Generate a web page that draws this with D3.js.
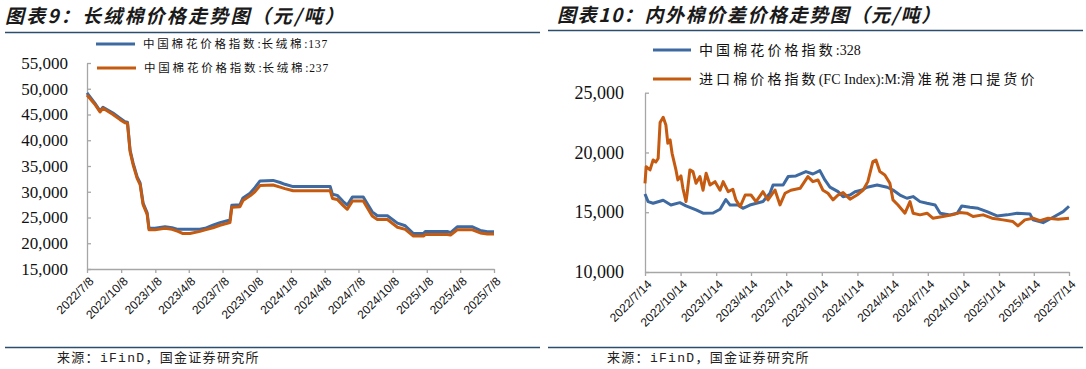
<!DOCTYPE html>
<html><head><meta charset="utf-8">
<script src="https://cdn.jsdelivr.net/npm/d3@7"></script>
<style>body{margin:0;background:#fff;} svg{display:block}</style>
</head><body>
<svg id="c" width="1086" height="369"></svg>
<script>
// ---------- Chart 9 data ----------
const longDates = ["2022-07-08","2022-07-29","2022-08-12","2022-08-20","2022-09-16","2022-10-05","2022-10-18","2022-10-25","2022-11-01","2022-11-09","2022-11-20","2022-11-28","2022-12-06","2022-12-17","2022-12-22","2023-01-07","2023-02-03","2023-02-22","2023-03-10","2023-03-22","2023-04-11","2023-05-08","2023-05-22","2023-06-12","2023-07-01","2023-07-28","2023-08-02","2023-08-24","2023-09-01","2023-09-20","2023-10-03","2023-10-17","2023-11-21","2023-12-10","2023-12-23","2024-01-14","2024-04-23","2024-04-29","2024-05-12","2024-05-28","2024-06-08","2024-06-22","2024-07-21","2024-08-14","2024-08-28","2024-09-24","2024-10-21","2024-11-11","2024-12-03","2024-12-30","2025-01-04","2025-03-04","2025-03-13","2025-03-31","2025-05-11","2025-06-01","2025-06-20","2025-07-08"];
const long137 = [49200,47200,45700,46400,45300,44300,43600,43500,38100,35600,32900,31700,27800,25900,22900,22900,23200,23000,22700,22700,22700,22700,22900,23500,24000,24500,27400,27500,28800,29700,30800,32100,32200,31800,31450,31000,31000,29500,29300,28100,27400,29000,29000,26100,25350,25350,23900,23400,21900,21900,22300,22300,22050,23200,23200,22500,22250,22250];
const long237 = [48800,47000,45500,46200,45000,44000,43400,43300,37800,35300,32600,31400,27500,25600,22600,22600,22900,22700,22300,21900,21900,22300,22600,23000,23500,24000,27000,27100,28300,29200,30000,31200,31300,30900,30600,30200,30200,28700,28500,27300,26600,28200,28200,25300,24600,24600,23100,22700,21400,21400,21700,21700,21600,22600,22600,22000,21800,21800];
const longTicks = ["2022/7/8","2022/10/8","2023/1/8","2023/4/8","2023/7/8","2023/10/8","2024/1/8","2024/4/8","2024/7/8","2024/10/8","2025/1/8","2025/4/8","2025/7/8"];
const longYTicks = [15000,20000,25000,30000,35000,40000,45000,50000,55000];
const longNames = ["中国棉花价格指数:长绒棉:137","中国棉花价格指数:长绒棉:237"];

// ---------- Chart 10 data ----------
const cnDates = ["2022-07-14","2022-07-22","2022-08-04","2022-08-30","2022-09-19","2022-10-12","2022-10-28","2022-11-23","2022-12-11","2023-01-06","2023-01-24","2023-02-08","2023-02-19","2023-03-11","2023-03-24","2023-04-11","2023-05-15","2023-06-02","2023-06-10","2023-07-06","2023-07-19","2023-08-08","2023-09-03","2023-09-21","2023-10-09","2023-10-22","2023-11-04","2023-11-25","2023-12-08","2023-12-26","2024-01-08","2024-01-26","2024-02-08","2024-03-05","2024-03-31","2024-04-15","2024-05-03","2024-05-21","2024-06-06","2024-06-24","2024-07-12","2024-08-02","2024-08-15","2024-09-09","2024-09-28","2024-10-10","2024-10-31","2024-11-21","2024-12-14","2025-01-09","2025-02-04","2025-03-02","2025-04-04","2025-04-12","2025-05-08","2025-06-03","2025-06-29","2025-07-14"];
const cn328 = [16530,15890,15750,16000,15610,15800,15530,15200,14920,14940,15250,16060,15600,15600,15330,15600,15900,16590,17280,17280,17980,18040,18400,18200,18480,17700,17100,16720,16300,16440,16720,16860,17090,17280,17090,16860,16440,16170,16310,15890,15750,15610,14920,14780,14920,15530,15420,15330,15050,14690,14780,14920,14860,14360,14130,14580,15050,15500];
const fcDates = ["2022-07-14","2022-07-17","2022-07-27","2022-08-04","2022-08-11","2022-08-17","2022-08-22","2022-08-30","2022-09-06","2022-09-11","2022-09-17","2022-09-22","2022-10-02","2022-10-07","2022-10-15","2022-10-20","2022-10-28","2022-10-31","2022-11-07","2022-11-15","2022-11-23","2022-12-03","2022-12-11","2022-12-19","2022-12-29","2023-01-11","2023-01-24","2023-02-01","2023-02-14","2023-02-26","2023-03-06","2023-03-17","2023-03-30","2023-04-14","2023-04-27","2023-05-15","2023-05-28","2023-06-15","2023-06-28","2023-07-11","2023-07-26","2023-08-19","2023-09-08","2023-09-21","2023-10-04","2023-10-17","2023-10-30","2023-11-12","2023-11-25","2023-12-08","2023-12-26","2024-01-13","2024-01-29","2024-02-10","2024-02-23","2024-03-02","2024-03-12","2024-03-25","2024-04-07","2024-04-15","2024-04-28","2024-05-16","2024-05-29","2024-06-06","2024-06-24","2024-07-12","2024-07-27","2024-08-22","2024-09-15","2024-10-05","2024-10-23","2024-11-08","2024-12-04","2024-12-27","2025-01-24","2025-02-19","2025-03-04","2025-03-22","2025-04-12","2025-04-30","2025-05-21","2025-06-16","2025-07-14"];
const fcIndexM = [17420,18810,18540,19370,19200,19500,22500,22940,22300,20770,21050,19930,18540,17700,18040,17000,15890,16590,18540,18400,17420,17980,16840,18260,17280,17560,16840,17560,16720,16920,16030,15470,16440,16440,15890,16720,16030,16860,15610,16590,16840,17000,17980,17560,17700,16840,16590,16030,16440,16640,16090,16440,16860,17560,19230,19370,18400,18120,17420,16030,15610,14920,15890,14920,14780,14920,14500,14640,14780,14970,14920,14640,14780,14500,14360,14220,13860,14360,14500,14300,14500,14420,14500];
const spreadTicks = ["2022/7/14","2022/10/14","2023/1/14","2023/4/14","2023/7/14","2023/10/14","2024/1/14","2024/4/14","2024/7/14","2024/10/14","2025/1/14","2025/4/14","2025/7/14"];
const spreadYTicks = [10000,15000,20000,25000];
const spreadNames = ["中国棉花价格指数:328","进口棉价格指数(FC Index):M:滑准税港口提货价"];

const titles = ["图表9：长绒棉价格走势图（元/吨）","图表10：内外棉价差价格走势图（元/吨）"];
const sourceText = "来源：iFinD，国金证券研究所";

// ---------- drawing ----------
const BLUE = "#3e6aa1", ORANGE = "#c55a11", AXIS = "#a6a6a6", RULE = "#2d4d6e";
const svg = d3.select("#c");
const parseD = s => { const [y,m,d] = s.split(/[-\/]/).map(Number); return new Date(y, m-1, d); };
const isCJK = ch => /[\u3000-\u9fff\uff00-\uffef]/.test(ch);
function runs(str) {
  const out = [];
  for (const ch of str) {
    const c = isCJK(ch);
    if (out.length && out[out.length-1].cjk === c) out[out.length-1].t += ch;
    else out.push({cjk: c, t: ch});
  }
  return out;
}

function drawChart(cfg) {
  const g = svg.append("g");
  const tickDates = cfg.ticks.map(parseD);
  const x = d3.scaleTime().domain([tickDates[0], tickDates[tickDates.length-1]]).range([cfg.x0, cfg.x1]);
  const y = d3.scaleLinear().domain([cfg.yTicks[0], cfg.yTicks[cfg.yTicks.length-1]]).range([cfg.yb, cfg.yt]);

  // title
  g.append("text").attr("x", cfg.titleX).attr("y", cfg.titleY)
    .attr("font-family","'Noto Sans CJK SC'").attr("font-weight","bold").attr("font-style","italic")
    .attr("font-size", 19).attr("letter-spacing", cfg.titleSpace).attr("fill","#1a1a1a").text(cfg.title);
  g.append("line").attr("x1", cfg.ruleX0).attr("x2", cfg.ruleX1).attr("y1", cfg.ruleTop).attr("y2", cfg.ruleTop)
    .attr("stroke", RULE).attr("stroke-width", 1.3);
  g.append("line").attr("x1", cfg.ruleX0).attr("x2", cfg.ruleX1).attr("y1", 347.5).attr("y2", 347.5)
    .attr("stroke", RULE).attr("stroke-width", 1.3);
  g.append("text").attr("x", cfg.srcX).attr("y", 362)
    .attr("font-family","'Liberation Mono','Noto Sans CJK SC'").attr("font-size", 13).attr("letter-spacing", 1.3)
    .attr("fill","#222").text(sourceText);

  // y axis
  const ya = g.append("g").attr("transform", `translate(${cfg.x0},0)`)
    .call(d3.axisLeft(y).tickValues(cfg.yTicks).tickSizeInner(-4).tickSizeOuter(0).tickPadding(cfg.yPad).tickFormat(d3.format(",")));
  ya.select(".domain").attr("stroke", AXIS).attr("stroke-width", 1.3);
  ya.selectAll(".tick line").attr("stroke", AXIS).attr("stroke-width", 1.3);
  ya.selectAll("text").attr("font-family","'Liberation Serif'").attr("font-size", cfg.yFont).attr("fill","#111");

  // x axis
  const xa = g.append("g").attr("transform", `translate(0,${cfg.yb})`)
    .call(d3.axisBottom(x).tickValues(tickDates).tickSize(4).tickSizeOuter(0).tickFormat((d,i) => cfg.ticks[i]));
  xa.select(".domain").attr("stroke", AXIS).attr("stroke-width", 1.3);
  xa.selectAll(".tick line").attr("stroke", AXIS).attr("stroke-width", 1.3);
  xa.selectAll("text").attr("x", 0).attr("y", 0).attr("dy", "0.35em")
    .attr("text-anchor","end").attr("transform","translate(4,10) rotate(-45)")
    .attr("font-family","'Liberation Sans'").attr("font-size", 12).attr("fill","#111");

  // lines
  const line = d3.line().x(d => x(d.date)).y(d => y(d.value));
  cfg.series.forEach(s => {
    const pts = s.dates.map((d,i) => ({date: parseD(d), value: s.values[i]}));
    g.append("path").datum(pts).attr("d", line).attr("fill","none")
      .attr("stroke", s.color).attr("stroke-width", 3).attr("stroke-linejoin","round");
  });

  // legend
  cfg.series.forEach((s, i) => {
    const L = cfg.legend[i];
    g.append("line").attr("x1", L.x).attr("x2", L.x + cfg.legLen).attr("y1", L.y).attr("y2", L.y)
      .attr("stroke", s.color).attr("stroke-width", 3);
    const t = g.append("text").attr("x", L.x + cfg.legLen + 8).attr("y", L.y).attr("dy","0.35em")
      .attr("font-family","'Liberation Serif','Noto Sans CJK SC'").attr("font-size", cfg.legFont).attr("fill","#111");
    runs(s.name).forEach(r => {
      t.append("tspan").attr("letter-spacing", r.cjk ? cfg.legSpace : cfg.legLatinSpace).text(r.t);
    });
  });
}

drawChart({
  title: titles[0], titleX: 5, titleY: 23, titleSpace: 2.2, ruleX0: 5, ruleX1: 540, ruleTop: 32.5, srcX: 57,
  ticks: longTicks, yTicks: longYTicks, x0: 87, x1: 494, yb: 269, yt: 63, yPad: 19, yFont: 17,
  series: [
    {name: longNames[0], dates: longDates, values: long137, color: BLUE},
    {name: longNames[1], dates: longDates, values: long237, color: ORANGE}
  ],
  legend: [{x: 96, y: 44}, {x: 97, y: 68}], legLen: 39, legFont: 11.5, legSpace: 2.8, legLatinSpace: 0.8
});

drawChart({
  title: titles[1], titleX: 557, titleY: 22, titleSpace: 1.6, ruleX0: 548, ruleX1: 1083, ruleTop: 30.5, srcX: 607,
  ticks: spreadTicks, yTicks: spreadYTicks, x0: 645, x1: 1069, yb: 272, yt: 92.7, yPad: 21, yFont: 18,
  series: [
    {name: spreadNames[0], dates: cnDates, values: cn328, color: BLUE},
    {name: spreadNames[1], dates: fcDates, values: fcIndexM, color: ORANGE}
  ],
  legend: [{x: 653, y: 50}, {x: 653, y: 79}], legLen: 38, legFont: 14, legSpace: 3.1, legLatinSpace: 0
});
</script>
</body></html>
